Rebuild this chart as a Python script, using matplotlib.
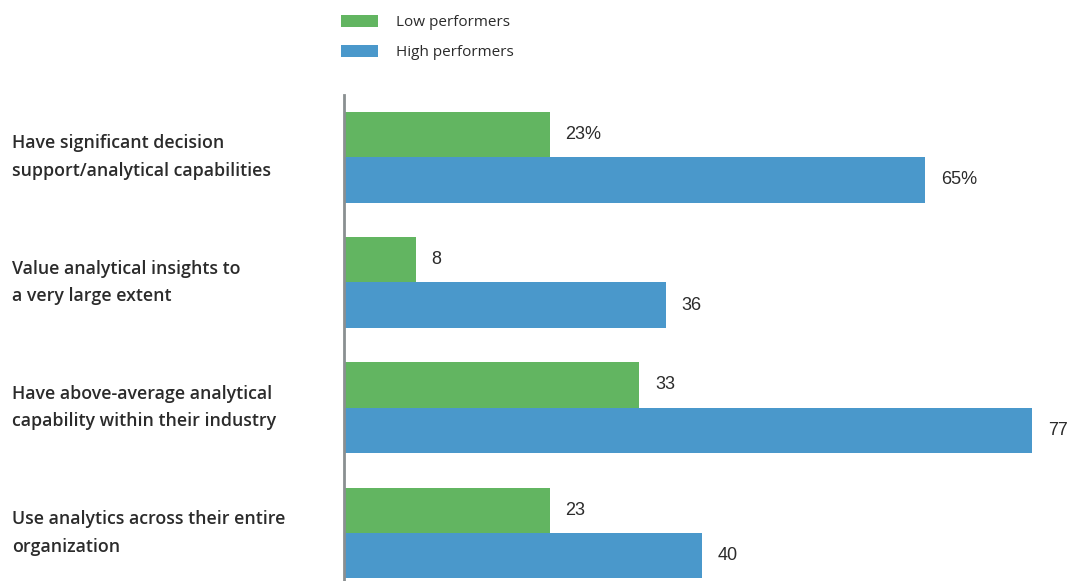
import matplotlib
matplotlib.use("Agg")
import matplotlib.pyplot as plt
import matplotlib.transforms as mtransforms
import numpy as np

categories = [
    "Have significant decision\nsupport/analytical capabilities",
    "Value analytical insights to\na very large extent",
    "Have above-average analytical\ncapability within their industry",
    "Use analytics across their entire\norganization",
]
low = [23, 8, 33, 23]
high = [65, 36, 77, 40]
low_labels = ["23%", "8", "33", "23"]
high_labels = ["65%", "36", "77", "40"]
series_names = ["Low performers", "High performers"]

GREEN = "#62B561"
BLUE = "#4A98CB"
TXT = "#2b2b2b"
FONT = ["Open Sans", "DejaVu Sans"]
VFONT = ["Liberation Sans", "DejaVu Sans"]

fig = plt.figure(figsize=(10.7, 5.81), dpi=100)
ax = fig.add_axes([344/1070, 0, (1070-344)/1070, (581-95)/581])

y = np.arange(len(categories))
h = 0.363
b1 = ax.barh(y - h/2, low, height=h, color=GREEN, label=series_names[0])
b2 = ax.barh(y + h/2, high, height=h, color=BLUE, label=series_names[1])

ax.set_xlim(0, 726/8.94)
ax.set_ylim(3.383, -0.495)

for s in ["top", "right", "bottom"]:
    ax.spines[s].set_visible(False)
ax.spines["left"].set_color("#8a8f91")
ax.spines["left"].set_linewidth(2)
ax.set_xticks([])
ax.set_yticks([])

off = mtransforms.offset_copy(ax.transData, fig=fig, x=16, y=0, units="dots")
for yi, v, lab in zip(y, low, low_labels):
    ax.text(v, yi - h/2, lab, transform=off, ha="left", va="center",
            fontsize=13, fontweight="medium", color=TXT, family=VFONT)
for yi, v, lab in zip(y, high, high_labels):
    ax.text(v, yi + h/2, lab, transform=off, ha="left", va="center",
            fontsize=13, fontweight="medium", color=TXT, family=VFONT)

blend = mtransforms.blended_transform_factory(fig.transFigure, ax.transData)
for yi, cat in zip(y, categories):
    ax.text(12/1070, yi, cat, transform=blend, ha="left", va="center",
            fontsize=12.8, fontweight="semibold", color=TXT, family=FONT,
            linespacing=1.66)

fig.legend(handles=[b1, b2], labels=series_names, loc="upper left",
           bbox_to_anchor=(341/1070, 1 - 15/581), frameon=False,
           prop={"family": FONT, "size": 11}, handlelength=2.4,
           handleheight=0.85, labelspacing=0.95, handletextpad=1.2,
           borderpad=0, borderaxespad=0, labelcolor=TXT)

fig.savefig("out.png", dpi=100)
